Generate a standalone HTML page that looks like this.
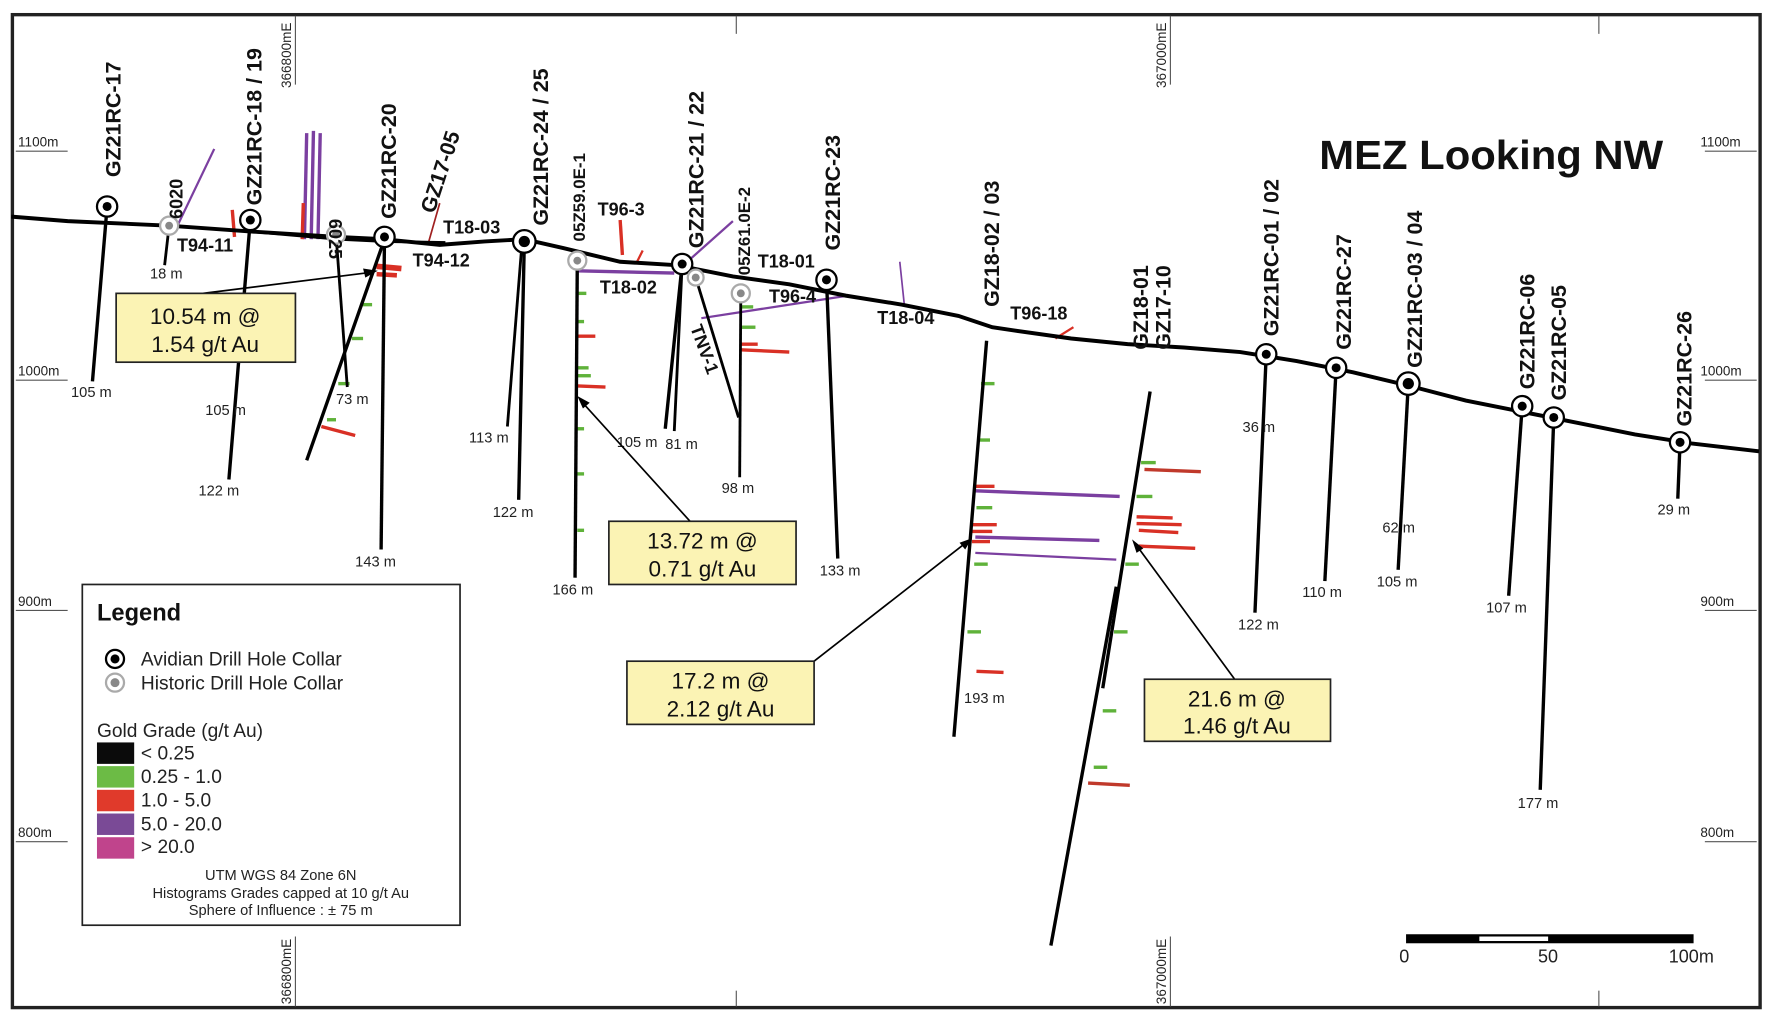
<!DOCTYPE html>
<html><head><meta charset="utf-8"><style>
html,body{margin:0;padding:0;background:#fff}
svg{display:block}
text{font-family:"Liberation Sans",Arial,sans-serif}
.lb{font-weight:bold;font-size:19px;fill:#111}
.sm{font-size:13px;fill:#222}
.ax{font-size:12px;fill:#222}
.co{font-size:20px;fill:#111}
</style></head><body>
<svg width="1768" height="1020" viewBox="0 0 1568 904" preserveAspectRatio="none" xmlns="http://www.w3.org/2000/svg">
<rect x="0" y="0" width="1568" height="904" fill="#fff"/>
<rect x="11" y="13" width="1550" height="880" fill="none" stroke="#222" stroke-width="3"/>
<g stroke="#555" stroke-width="1">
<line x1="262" y1="14" x2="262" y2="75"/><line x1="1038" y1="14" x2="1038" y2="75"/>
<line x1="653" y1="14" x2="653" y2="30"/><line x1="1418" y1="14" x2="1418" y2="30"/>
<line x1="262" y1="830" x2="262" y2="892"/><line x1="1038" y1="830" x2="1038" y2="892"/>
<line x1="653" y1="878" x2="653" y2="892"/><line x1="1418" y1="878" x2="1418" y2="892"/>
<line x1="14" y1="134" x2="60" y2="134"/><line x1="14" y1="337" x2="60" y2="337"/>
<line x1="14" y1="541" x2="60" y2="541"/><line x1="14" y1="746" x2="60" y2="746"/>
<line x1="1512" y1="134" x2="1558" y2="134"/><line x1="1512" y1="337" x2="1558" y2="337"/>
<line x1="1512" y1="541" x2="1558" y2="541"/><line x1="1512" y1="746" x2="1558" y2="746"/>
</g>
<g class="ax">
<text x="16" y="130">1100m</text><text x="16" y="333">1000m</text><text x="16" y="537">900m</text><text x="16" y="742">800m</text>
<text x="1508" y="130">1100m</text><text x="1508" y="333">1000m</text><text x="1508" y="537">900m</text><text x="1508" y="742">800m</text>
<text transform="translate(258,78) rotate(-90)">366800mE</text>
<text transform="translate(1034,78) rotate(-90)">367000mE</text>
<text transform="translate(258,890) rotate(-90)">366800mE</text>
<text transform="translate(1034,890) rotate(-90)">367000mE</text>
</g>
<text x="1170" y="150" font-size="36" font-weight="bold" fill="#111" textLength="305" lengthAdjust="spacingAndGlyphs">MEZ Looking NW</text>

<g stroke-width="3">
<line x1="155" y1="205" x2="190" y2="132" stroke="#7b3fa0" stroke-width="2"/>
<line x1="270" y1="212" x2="272" y2="118" stroke="#7b3fa0"/>
<line x1="276" y1="212" x2="278" y2="116" stroke="#7b3fa0"/>
<line x1="282" y1="212" x2="284" y2="118" stroke="#7b3fa0"/>
<line x1="268" y1="212" x2="269" y2="180" stroke="#d93025"/>
<line x1="206" y1="186" x2="208" y2="210" stroke="#d93025"/>
<line x1="380" y1="215" x2="390" y2="180" stroke="#a02020" stroke-width="1.5"/>
<line x1="512" y1="240" x2="598" y2="242" stroke="#7b3fa0"/>
<line x1="605" y1="236" x2="650" y2="196" stroke="#7b3fa0" stroke-width="2"/>
<line x1="622" y1="282" x2="752" y2="262" stroke="#7b3fa0" stroke-width="2"/>
<line x1="550" y1="195" x2="552" y2="226" stroke="#d93025"/>
<line x1="565" y1="232" x2="570" y2="222" stroke="#d93025" stroke-width="2"/>
<line x1="798" y1="232" x2="802" y2="270" stroke="#7b3fa0" stroke-width="1.5"/>
<line x1="936" y1="300" x2="952" y2="290" stroke="#d93025" stroke-width="2"/>
<line x1="512" y1="298" x2="528" y2="298" stroke="#d93025"/>
<line x1="512" y1="342" x2="537" y2="343" stroke="#d93025"/>
<line x1="512" y1="333" x2="524" y2="333" stroke="#5fb23a"/>
<line x1="512" y1="326" x2="522" y2="326" stroke="#5fb23a"/>
<line x1="657" y1="310" x2="700" y2="312" stroke="#d93025"/>
<line x1="657" y1="305" x2="672" y2="305" stroke="#d93025"/>
<line x1="657" y1="290" x2="670" y2="290" stroke="#5fb23a"/>
<line x1="657" y1="272" x2="668" y2="272" stroke="#5fb23a"/>
<line x1="334" y1="236" x2="356" y2="238" stroke="#d93025" stroke-width="5"/>
<line x1="334" y1="243" x2="352" y2="244" stroke="#d93025" stroke-width="4"/>
<line x1="285" y1="378" x2="315" y2="386" stroke="#d93025"/>
<line x1="865" y1="435" x2="993" y2="440" stroke="#7b3fa0"/>
<line x1="865" y1="476" x2="975" y2="479" stroke="#7b3fa0"/>
<line x1="865" y1="490" x2="990" y2="496" stroke="#7b3fa0" stroke-width="2"/>
<line x1="864" y1="431" x2="882" y2="431" stroke="#d93025"/>
<line x1="862" y1="465" x2="884" y2="465" stroke="#d93025"/>
<line x1="862" y1="471" x2="880" y2="471" stroke="#d93025"/>
<line x1="862" y1="480" x2="878" y2="480" stroke="#d93025"/>
<line x1="866" y1="595" x2="890" y2="596" stroke="#d93025"/>
<line x1="1015" y1="416" x2="1065" y2="418" stroke="#c0392b"/>
<line x1="1008" y1="458" x2="1040" y2="459" stroke="#d93025"/>
<line x1="1008" y1="464" x2="1048" y2="465" stroke="#d93025"/>
<line x1="1010" y1="470" x2="1045" y2="472" stroke="#d93025"/>
<line x1="1010" y1="484" x2="1060" y2="486" stroke="#d93025"/>
<line x1="965" y1="694" x2="1002" y2="696" stroke="#c0392b"/>
</g>
<g stroke="#5fb23a" stroke-width="3">
<line x1="870" y1="340" x2="882" y2="340"/><line x1="868" y1="390" x2="878" y2="390"/>
<line x1="866" y1="450" x2="880" y2="450"/><line x1="864" y1="500" x2="876" y2="500"/>
<line x1="858" y1="560" x2="870" y2="560"/><line x1="1012" y1="410" x2="1025" y2="410"/>
<line x1="1008" y1="440" x2="1022" y2="440"/><line x1="998" y1="500" x2="1010" y2="500"/>
<line x1="988" y1="560" x2="1000" y2="560"/><line x1="978" y1="630" x2="990" y2="630"/>
<line x1="970" y1="680" x2="982" y2="680"/>
<line x1="320" y1="270" x2="330" y2="270"/><line x1="312" y1="300" x2="322" y2="300"/>
<line x1="300" y1="340" x2="310" y2="340"/><line x1="290" y1="372" x2="298" y2="372"/>
<line x1="512" y1="260" x2="520" y2="260"/><line x1="512" y1="285" x2="518" y2="285"/>
<line x1="512" y1="380" x2="518" y2="380"/><line x1="512" y1="420" x2="518" y2="420"/>
<line x1="512" y1="470" x2="518" y2="470"/>
</g>

<polyline fill="none" stroke="#000" stroke-width="3.5" points="10,192 60,196 150,200 220,205 300,210 340,212 390,217 430,214 465,212 500,220 550,232 600,235 650,245 700,252 750,262 800,270 850,280 880,290 900,293 950,300 1000,305 1050,308 1100,312 1150,320 1200,330 1250,342 1300,355 1350,365 1400,375 1450,385 1500,393 1560,400"/>
<polyline fill="none" stroke="#000" stroke-width="2.5" points="220,205 300,212 340,214 395,215"/>

<g stroke="#000" stroke-width="3" fill="none">
<line x1="95" y1="183" x2="82" y2="338"/>
<line x1="150" y1="200" x2="146" y2="235" stroke-width="2.5"/>
<line x1="222" y1="195" x2="203" y2="425"/>
<line x1="298" y1="208" x2="308" y2="343" stroke-width="2.5"/>
<line x1="341" y1="210" x2="338" y2="487"/>
<line x1="340" y1="215" x2="272" y2="408"/>
<line x1="465" y1="215" x2="460" y2="443"/>
<line x1="463" y1="215" x2="450" y2="378" stroke-width="2.5"/>
<line x1="512" y1="231" x2="510" y2="512"/>
<line x1="605" y1="234" x2="590" y2="380"/>
<line x1="605" y1="234" x2="598" y2="382" stroke-width="2.5"/>
<line x1="617" y1="246" x2="655" y2="370" stroke-width="2.5"/>
<line x1="657" y1="260" x2="656" y2="423" stroke-width="2.5"/>
<line x1="733" y1="248" x2="743" y2="495"/>
<line x1="875" y1="302" x2="846" y2="653"/>
<line x1="1020" y1="347" x2="978" y2="610"/>
<line x1="990" y1="520" x2="932" y2="838"/>
<line x1="1123" y1="314" x2="1113" y2="543"/>
<line x1="1185" y1="326" x2="1175" y2="515"/>
<line x1="1249" y1="340" x2="1240" y2="505"/>
<line x1="1350" y1="360" x2="1338" y2="528"/>
<line x1="1378" y1="370" x2="1366" y2="700"/>
<line x1="1490" y1="392" x2="1488" y2="442"/>
</g>
<g>
<g fill="#fff" stroke="#000" stroke-width="2">
<circle cx="95" cy="183" r="9"/><circle cx="222" cy="195" r="9"/><circle cx="341" cy="210" r="9"/>
<circle cx="465" cy="214" r="10"/><circle cx="605" cy="234" r="9"/><circle cx="733" cy="248" r="9"/>
<circle cx="1123" cy="314" r="9"/><circle cx="1185" cy="326" r="9"/><circle cx="1249" cy="340" r="10"/>
<circle cx="1350" cy="360" r="9"/><circle cx="1378" cy="370" r="9"/><circle cx="1490" cy="392" r="9"/>
</g>
<g fill="#000">
<circle cx="95" cy="183" r="4"/><circle cx="222" cy="195" r="4"/><circle cx="341" cy="210" r="4"/>
<circle cx="465" cy="214" r="5"/><circle cx="605" cy="234" r="4"/><circle cx="733" cy="248" r="4"/>
<circle cx="1123" cy="314" r="4"/><circle cx="1185" cy="326" r="4"/><circle cx="1249" cy="340" r="5"/>
<circle cx="1350" cy="360" r="4"/><circle cx="1378" cy="370" r="4"/><circle cx="1490" cy="392" r="4"/>
</g>
<g fill="#fff" stroke="#aaa" stroke-width="2">
<circle cx="150" cy="200" r="8"/><circle cx="298" cy="208" r="8"/><circle cx="512" cy="231" r="8"/>
<circle cx="617" cy="246" r="7"/><circle cx="657" cy="260" r="8"/>
</g>
<g fill="#888">
<circle cx="150" cy="200" r="3.5"/><circle cx="298" cy="208" r="3.5"/><circle cx="512" cy="231" r="3.5"/>
<circle cx="617" cy="246" r="3.5"/><circle cx="657" cy="260" r="3.5"/>
</g>
</g>

<g class="lb">
<text transform="translate(107,157) rotate(-90)">GZ21RC-17</text>
<text transform="translate(232,182) rotate(-90)">GZ21RC-18 / 19</text>
<text transform="translate(351,194) rotate(-90)">GZ21RC-20</text>
<text transform="translate(385,190) rotate(-72)">GZ17-05</text>
<text transform="translate(486,200) rotate(-90)">GZ21RC-24 / 25</text>
<text transform="translate(624,220) rotate(-90)">GZ21RC-21 / 22</text>
<text transform="translate(745,222) rotate(-90)">GZ21RC-23</text>
<text transform="translate(886,272) rotate(-90)">GZ18-02 / 03</text>
<text transform="translate(1018,310) rotate(-90)">GZ18-01</text>
<text transform="translate(1038,310) rotate(-90)">GZ17-10</text>
<text transform="translate(1134,298) rotate(-90)">GZ21RC-01 / 02</text>
<text transform="translate(1198,310) rotate(-90)">GZ21RC-27</text>
<text transform="translate(1261,326) rotate(-90)">GZ21RC-03 / 04</text>
<text transform="translate(1361,345) rotate(-90)">GZ21RC-06</text>
<text transform="translate(1389,355) rotate(-90)">GZ21RC-05</text>
<text transform="translate(1500,378) rotate(-90)">GZ21RC-26</text>
</g>
<g font-weight="bold" font-size="16" fill="#111">
<text transform="translate(162,194) rotate(-90)">6020</text>
<text transform="translate(292,194) rotate(90)">6025</text>
<text transform="translate(519,214) rotate(-90)" font-size="15">05Z59.0E-1</text>
<text transform="translate(665,244) rotate(-90)" font-size="15">05Z61.0E-2</text>
<text transform="translate(612,290) rotate(70)">TNV-1</text>
<text x="157" y="223">T94-11</text>
<text x="366" y="236">T94-12</text>
<text x="393" y="207">T18-03</text>
<text x="530" y="191">T96-3</text>
<text x="532" y="260">T18-02</text>
<text x="672" y="237">T18-01</text>
<text x="682" y="268">T96-4</text>
<text x="778" y="287">T18-04</text>
<text x="896" y="283">T96-18</text>
</g>
<g class="sm">
<text x="63" y="352">105 m</text><text x="133" y="247">18 m</text><text x="182" y="368">105 m</text>
<text x="176" y="439">122 m</text><text x="298" y="358">73 m</text><text x="315" y="502">143 m</text>
<text x="416" y="392">113 m</text><text x="437" y="458">122 m</text><text x="490" y="527">166 m</text>
<text x="547" y="396">105 m</text><text x="590" y="398">81 m</text><text x="640" y="437">98 m</text>
<text x="727" y="510">133 m</text><text x="855" y="623">193 m</text><text x="1102" y="383">36 m</text>
<text x="1098" y="558">122 m</text><text x="1155" y="529">110 m</text><text x="1226" y="472">62 m</text>
<text x="1221" y="520">105 m</text><text x="1318" y="543">107 m</text><text x="1346" y="716">177 m</text>
<text x="1470" y="456">29 m</text>
</g>

<g stroke="#000" stroke-width="1.5">
<line x1="180" y1="260" x2="332" y2="241"/><line x1="612" y1="462" x2="515" y2="355"/>
<line x1="722" y1="586" x2="858" y2="480"/><line x1="1095" y1="602" x2="1007" y2="482"/>
</g>
<g fill="#000">
<polygon points="335,240 322,238 324,246"/>
<polygon points="512,351 523,357 517,362"/>
<polygon points="862,477 851,481 856,487"/>
<polygon points="1004,478 1008,490 1014,486"/>
</g>
<g fill="#fbf3b4" stroke="#222" stroke-width="1.5">
<rect x="103" y="260" width="159" height="61"/>
<rect x="540" y="462" width="166" height="56"/>
<rect x="556" y="586" width="166" height="56"/>
<rect x="1015" y="602" width="165" height="55"/>
</g>
<g class="co" text-anchor="middle">
<text x="182" y="287">10.54 m @</text><text x="182" y="312">1.54 g/t Au</text>
<text x="623" y="486">13.72 m @</text><text x="623" y="511">0.71 g/t Au</text>
<text x="639" y="610">17.2 m @</text><text x="639" y="635">2.12 g/t Au</text>
<text x="1097" y="626">21.6 m @</text><text x="1097" y="650">1.46 g/t Au</text>
</g>

<rect x="73" y="518" width="335" height="302" fill="#fff" stroke="#222" stroke-width="1.5"/>
<text x="86" y="550" font-size="21" font-weight="bold" fill="#111">Legend</text>
<circle cx="102" cy="584" r="8" fill="#fff" stroke="#000" stroke-width="2"/><circle cx="102" cy="584" r="4" fill="#000"/>
<circle cx="102" cy="605" r="8" fill="#fff" stroke="#aaa" stroke-width="2"/><circle cx="102" cy="605" r="4" fill="#888"/>
<g font-size="17" fill="#222">
<text x="125" y="590">Avidian Drill Hole Collar</text>
<text x="125" y="611">Historic Drill Hole Collar</text>
<text x="86" y="653">Gold Grade (g/t Au)</text>
<text x="125" y="673">&lt; 0.25</text>
<text x="125" y="694">0.25 - 1.0</text>
<text x="125" y="715">1.0 - 5.0</text>
<text x="125" y="736">5.0 - 20.0</text>
<text x="125" y="756">&gt; 20.0</text>
</g>
<rect x="86" y="658" width="33" height="19" fill="#0b0b0b"/>
<rect x="86" y="679" width="33" height="19" fill="#6cbb45"/>
<rect x="86" y="700" width="33" height="19" fill="#e03a2b"/>
<rect x="86" y="721" width="33" height="19" fill="#7a4a96"/>
<rect x="86" y="742" width="33" height="19" fill="#c0448c"/>
<g font-size="13" fill="#222" text-anchor="middle">
<text x="249" y="780">UTM WGS 84 Zone 6N</text>
<text x="249" y="796">Histograms Grades capped at 10 g/t Au</text>
<text x="249" y="811">Sphere of Influence : ± 75 m</text>
</g>

<rect x="1247" y="828" width="255" height="8" fill="#000"/>
<rect x="1312" y="830" width="61" height="4" fill="#fff"/>
<g font-size="16" fill="#222">
<text x="1241" y="853">0</text><text x="1364" y="853">50</text><text x="1480" y="853">100m</text>
</g>
</svg>
</body></html>
